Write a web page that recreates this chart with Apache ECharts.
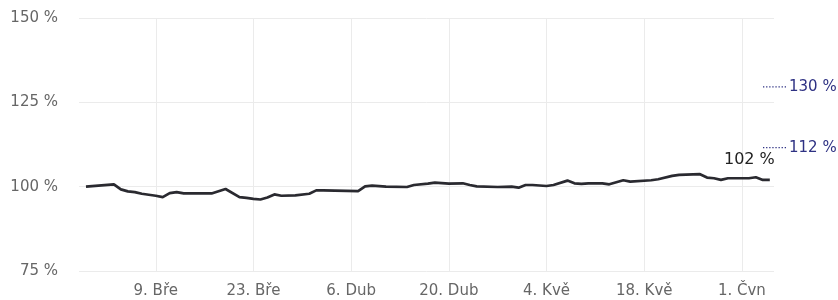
<!DOCTYPE html>
<html>
<head>
<meta charset="utf-8">
<script src="https://cdn.jsdelivr.net/npm/echarts@6/dist/echarts.min.js"></script>
<style>
    html, body { margin: 0; padding: 0; background: #fff; }
    #chart { width: 838px; height: 300px; }
</style>
</head>
<body>
<div id="chart"></div>
<script>
    // hodnoty vyčtené z obrázku
    const dates = [
        '2024-02-28', '2024-03-03', '2024-03-04', '2024-03-05', '2024-03-06', '2024-03-07',
        '2024-03-08', '2024-03-09', '2024-03-10', '2024-03-11', '2024-03-12', '2024-03-13',
        '2024-03-17', '2024-03-19', '2024-03-21', '2024-03-22', '2024-03-23', '2024-03-24',
        '2024-03-25', '2024-03-26', '2024-03-27', '2024-03-29', '2024-03-31', '2024-04-01',
        '2024-04-02', '2024-04-07', '2024-04-08', '2024-04-09', '2024-04-11', '2024-04-14',
        '2024-04-15', '2024-04-17', '2024-04-18', '2024-04-20', '2024-04-22', '2024-04-23',
        '2024-04-24', '2024-04-27', '2024-04-29', '2024-04-30', '2024-05-01', '2024-05-02',
        '2024-05-04', '2024-05-05', '2024-05-07', '2024-05-08', '2024-05-09', '2024-05-10',
        '2024-05-12', '2024-05-13', '2024-05-15', '2024-05-16', '2024-05-19', '2024-05-20',
        '2024-05-22', '2024-05-23', '2024-05-26', '2024-05-27', '2024-05-28', '2024-05-29',
        '2024-05-30', '2024-06-02', '2024-06-03', '2024-06-04', '2024-06-05'
    ]
    const values = [
        100.0, 100.7, 99.2, 98.6, 98.4, 97.9,
        97.6, 97.3, 96.9, 98.1, 98.4, 98.0,
        98.0, 99.3, 96.9, 96.7, 96.4, 96.2,
        96.8, 97.7, 97.3, 97.4, 97.9, 98.9,
        98.9, 98.7, 100.1, 100.3, 100.0, 99.9,
        100.5, 100.9, 101.2, 100.9, 101.0, 100.5,
        100.1, 99.9, 100.0, 99.7, 100.5, 100.5,
        100.2, 100.5, 101.8, 101.0, 100.8, 101.0,
        101.0, 100.7, 101.9, 101.5, 101.9, 102.2,
        103.2, 103.5, 103.7, 102.7, 102.5, 102.0,
        102.5, 102.5, 102.8, 102.0, 102.0
    ]
    const tickDates = ['2024-03-09', '2024-03-23', '2024-04-06', '2024-04-20', '2024-05-04', '2024-05-18', '2024-06-01']
    const yTicks = [75, 100, 125, 150]
    const targetLevels = [130, 112]
    const currentLabel = '102 %'

    const monthNames = ['Led', 'Úno', 'Bře', 'Dub', 'Kvě', 'Čvn', 'Čvc', 'Srp', 'Zář', 'Říj', 'Lis', 'Pro']
    const startDay = Date.UTC(2024, 1, 27)
    const dayMs = 86400000

    function toDay(s) {
        let p = s.split('-')
        return (Date.UTC(+p[0], +p[1] - 1, +p[2]) - startDay) / dayMs
    }
    function dayLabel(d) {
        let dt = new Date(startDay + Math.round(d) * dayMs)
        return dt.getUTCDate() + '. ' + monthNames[dt.getUTCMonth()]
    }

    const lineData = dates.map((d, i) => [toDay(d), values[i]])
    const tickDays = tickDates.map(toDay)
    const font = 'DejaVu Sans'
    const navy = '#2e3183'

    let chart = echarts.init(document.getElementById('chart'), null, {renderer: 'canvas'})
    let option = {
        animation: false,
        grid: [
            {left: 79, right: 64, top: 18, bottom: 29},
            {left: 763, width: 23, top: 19.5, bottom: 27.5}
        ],
        xAxis: [
            {
                type: 'value',
                gridIndex: 0,
                min: 0,
                max: 99.6,
                axisLine: {show: false},
                axisTick: {show: false, customValues: tickDays},
                axisLabel: {
                    customValues: tickDays,
                    color: '#666',
                    fontFamily: font,
                    fontSize: 15,
                    margin: 13,
                    formatter: v => dayLabel(v)
                },
                splitLine: {show: true, lineStyle: {color: '#ebebeb', width: 1}}
            },
            {
                type: 'value',
                gridIndex: 1,
                min: 0,
                max: 1,
                show: false
            }
        ],
        yAxis: [
            {
                type: 'value',
                gridIndex: 0,
                min: yTicks[0],
                max: yTicks[yTicks.length - 1],
                interval: 25,
                axisLine: {show: false},
                axisTick: {show: false},
                axisLabel: {
                    color: '#666',
                    fontFamily: font,
                    fontSize: 15,
                    margin: 21,
                    formatter: '{value} %'
                },
                splitLine: {lineStyle: {color: '#ebebeb', width: 1}}
            },
            {
                type: 'value',
                gridIndex: 1,
                min: yTicks[0],
                max: yTicks[yTicks.length - 1],
                show: false
            }
        ],
        series: [
            {
                type: 'line',
                xAxisIndex: 0,
                yAxisIndex: 0,
                data: lineData,
                showSymbol: false,
                lineStyle: {color: '#2a2a30', width: 2.7},
                endLabel: {
                    show: true,
                    formatter: currentLabel,
                    align: 'right',
                    verticalAlign: 'bottom',
                    distance: 5,
                    padding: [0, 0, 12, 0],
                    color: '#222',
                    fontFamily: font,
                    fontSize: 16
                }
            }
        ].concat(targetLevels.map(v => ({
            type: 'line',
            xAxisIndex: 1,
            yAxisIndex: 1,
            data: [[0, v], [1, v]],
            showSymbol: false,
            clip: false,
            lineStyle: {color: navy, width: 1.3, type: [1.3, 1.8]},
            endLabel: {
                show: true,
                formatter: v + ' %',
                distance: 3,
                color: navy,
                fontFamily: font,
                fontSize: 15
            }
        })))
    }
    chart.setOption(option)
</script>
</body>
</html>
